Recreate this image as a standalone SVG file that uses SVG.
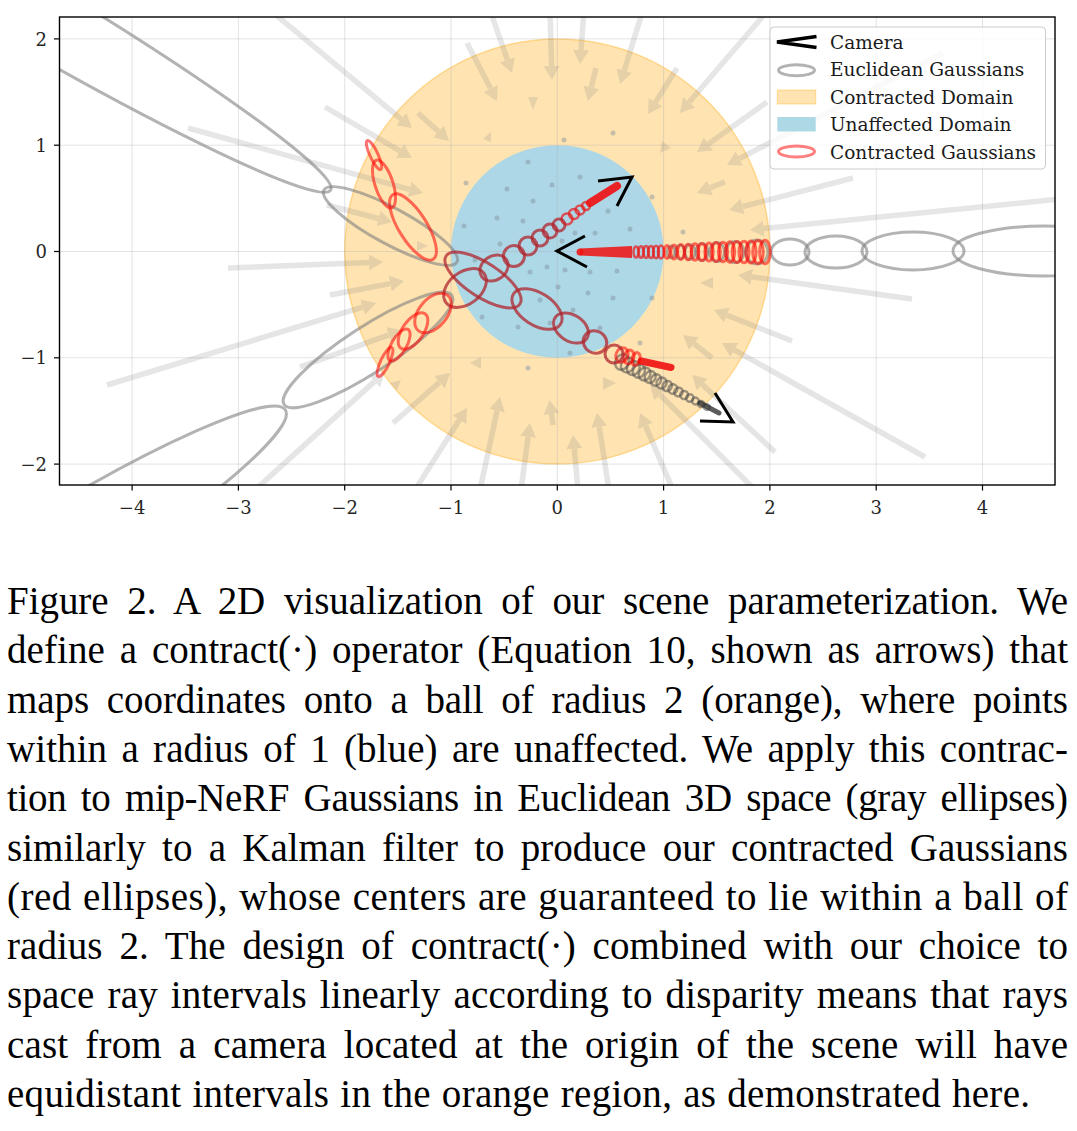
<svg xmlns="http://www.w3.org/2000/svg" width="1077" height="1131" viewBox="0 0 1077 1131">
<style>
.grid{stroke:#b0b0b0;stroke-opacity:.35;stroke-width:1}
.q line{stroke:#808080;stroke-width:5.5;stroke-linecap:butt}
.q polygon,.q circle{fill:#808080}
.dot{fill:#7f8f99;fill-opacity:.45}
.gE{fill:none;stroke:#808080;stroke-opacity:.6;stroke-width:3}
.gD{fill:none;stroke:#4d4d4d;stroke-opacity:.55;stroke-width:2.5}
.rC{fill:none;stroke:#ff0000;stroke-opacity:.55;stroke-width:3}
.rA{fill:none;stroke:#e81818;stroke-opacity:.7;stroke-width:2.5}
.rD{fill:none;stroke:#b0262e;stroke-opacity:.75;stroke-width:3}
.cam{fill:none;stroke:#000;stroke-width:3}
</style>
<defs>
<clipPath id="axclip"><rect x="59.5" y="17" width="995.5" height="468"/></clipPath>
<marker id="qh" markerUnits="userSpaceOnUse" markerWidth="14" markerHeight="16" viewBox="0 0 14 16" refX="0" refY="8" orient="auto"><path d="M0,0 L14,8 L0,16 z" fill="#808080"/></marker>
</defs>
<rect width="1077" height="1131" fill="#fff"/>
<g id="plot" clip-path="url(#axclip)">
<g id="domains">
<circle cx="557.3" cy="251.5" r="212.6" fill="#ffe4b2" stroke="#ffa500" stroke-opacity=".35" stroke-width="1.5"/>
<circle cx="557.3" cy="251.5" r="106.3" fill="#add8e6"/>
</g>
<g id="grid" class="grid">
<line x1="132.1" y1="17" x2="132.1" y2="485"/><line x1="238.4" y1="17" x2="238.4" y2="485"/><line x1="344.7" y1="17" x2="344.7" y2="485"/><line x1="451" y1="17" x2="451" y2="485"/><line x1="557.3" y1="17" x2="557.3" y2="485"/><line x1="663.6" y1="17" x2="663.6" y2="485"/><line x1="769.9" y1="17" x2="769.9" y2="485"/><line x1="876.2" y1="17" x2="876.2" y2="485"/><line x1="982.5" y1="17" x2="982.5" y2="485"/>
<line x1="59.5" y1="38.9" x2="1055" y2="38.9"/><line x1="59.5" y1="145.2" x2="1055" y2="145.2"/><line x1="59.5" y1="251.5" x2="1055" y2="251.5"/><line x1="59.5" y1="357.8" x2="1055" y2="357.8"/><line x1="59.5" y1="464.1" x2="1055" y2="464.1"/>
</g>
<g id="quiver" class="q" opacity=".2">
<line x1="270" y1="10" x2="401.2" y2="119.1" marker-end="url(#qh)"/>
<line x1="325" y1="107" x2="399.9" y2="150.9" marker-end="url(#qh)"/>
<line x1="188" y1="128" x2="409.5" y2="189.3" marker-end="url(#qh)"/>
<line x1="467" y1="43" x2="490.6" y2="88.6" marker-end="url(#qh)"/>
<line x1="490" y1="10" x2="507.4" y2="59.8" marker-end="url(#qh)"/>
<line x1="550" y1="10" x2="551.6" y2="66" marker-end="url(#qh)"/>
<line x1="584" y1="10" x2="581" y2="50" marker-end="url(#qh)"/>
<line x1="643" y1="10" x2="624.2" y2="70.6" marker-end="url(#qh)"/>
<line x1="596" y1="68" x2="591.3" y2="87.4" marker-end="url(#qh)"/>
<line x1="677" y1="68" x2="655.5" y2="102.2" marker-end="url(#qh)"/>
<line x1="770" y1="8" x2="689.1" y2="102.3" marker-end="url(#qh)"/>
<line x1="418" y1="113" x2="438.6" y2="131.6" marker-end="url(#qh)"/>
<line x1="943" y1="53" x2="739.4" y2="158.5" marker-end="url(#qh)"/>
<line x1="767" y1="102" x2="708.4" y2="143.9" marker-end="url(#qh)"/>
<line x1="725" y1="182" x2="710" y2="187.9" marker-end="url(#qh)"/>
<line x1="853" y1="178" x2="742.6" y2="206.5" marker-end="url(#qh)"/>
<line x1="1060" y1="199" x2="763.9" y2="228.6" marker-end="url(#qh)"/>
<line x1="912" y1="299" x2="751.9" y2="276.9" marker-end="url(#qh)"/>
<line x1="792" y1="341" x2="727" y2="315.2" marker-end="url(#qh)"/>
<line x1="925" y1="457" x2="734.2" y2="349.9" marker-end="url(#qh)"/>
<line x1="775" y1="452" x2="702.3" y2="384.5" marker-end="url(#qh)"/>
<line x1="755" y1="490" x2="660" y2="394.8" marker-end="url(#qh)"/>
<line x1="393" y1="423" x2="439.5" y2="382.2" marker-end="url(#qh)"/>
<line x1="415" y1="490" x2="459.5" y2="419.8" marker-end="url(#qh)"/>
<line x1="480" y1="490" x2="497.1" y2="410.7" marker-end="url(#qh)"/>
<line x1="521" y1="490" x2="528.1" y2="436.9" marker-end="url(#qh)"/>
<line x1="553" y1="425" x2="551.5" y2="414" marker-end="url(#qh)"/>
<line x1="578" y1="490" x2="574.3" y2="448.9" marker-end="url(#qh)"/>
<line x1="609" y1="490" x2="599.2" y2="426.8" marker-end="url(#qh)"/>
<line x1="673" y1="490" x2="645.5" y2="425.9" marker-end="url(#qh)"/>
<line x1="228" y1="268" x2="369" y2="262.5" marker-end="url(#qh)"/>
<line x1="107" y1="385" x2="362.6" y2="307.1" marker-end="url(#qh)"/>
<line x1="327" y1="205" x2="378.5" y2="218.5" marker-end="url(#qh)"/>
<line x1="330" y1="295" x2="390.2" y2="283.6" marker-end="url(#qh)"/>
<line x1="300" y1="367" x2="388.8" y2="334.8" marker-end="url(#qh)"/>
<line x1="255" y1="490" x2="374.6" y2="381.4" marker-end="url(#qh)"/>
<line x1="712" y1="358" x2="694" y2="343.7" marker-end="url(#qh)"/>
<polygon points="528,97 538,97 533,110"/>
<polygon points="483,139 491,132 491,142"/>
<polygon points="470,363 481,357 481,369"/>
<polygon points="603,377 616,383 603,390"/>
<polygon points="700,283 713,277 713,289"/>
<polygon points="660,153 662,141 671,148"/>
<polygon points="417,241 428,246 417,251"/>
<polygon points="390,383 401,380 397,390"/>
</g>
<g id="dots" class="dot">
<circle cx="500" cy="244" r="2.5"/><circle cx="475" cy="260" r="2.5"/><circle cx="530" cy="272" r="2.5"/><circle cx="547" cy="267" r="2.5"/><circle cx="565" cy="270" r="2.5"/><circle cx="590" cy="272" r="2.5"/><circle cx="617" cy="271" r="2.5"/><circle cx="558" cy="287" r="2.5"/><circle cx="588" cy="293" r="2.5"/><circle cx="613" cy="298" r="2.5"/><circle cx="573" cy="310" r="2.5"/><circle cx="540" cy="300" r="2.5"/><circle cx="518" cy="327" r="2.5"/><circle cx="482" cy="317" r="2.5"/><circle cx="600" cy="328" r="2.5"/><circle cx="570" cy="353" r="2.5"/><circle cx="550" cy="323" r="2.5"/><circle cx="528" cy="162" r="2.5"/><circle cx="580" cy="177" r="2.5"/><circle cx="552" cy="185" r="2.5"/><circle cx="507" cy="189" r="2.5"/><circle cx="533" cy="201" r="2.5"/><circle cx="497" cy="218" r="2.5"/><circle cx="523" cy="221" r="2.5"/><circle cx="464" cy="226" r="2.5"/><circle cx="608" cy="211" r="2.5"/><circle cx="630" cy="229" r="2.5"/><circle cx="595" cy="233" r="2.5"/><circle cx="575" cy="233" r="2.5"/><circle cx="562" cy="241" r="2.5"/><circle cx="652" cy="298" r="2.5"/><circle cx="640" cy="343" r="2.5"/><circle cx="528" cy="368" r="2.5"/><circle cx="466" cy="183" r="2.5"/><circle cx="564" cy="140" r="2.5"/><circle cx="613" cy="133" r="2.5"/><circle cx="652" cy="197" r="2.5"/><circle cx="683" cy="232" r="2.5"/>
</g>
<g id="euclidean-gaussians">
<ellipse class="gE" cx="0" cy="0" rx="400" ry="35" transform="translate(-14,-13) rotate(30.5)"/>
<ellipse class="gE" cx="0" cy="0" rx="75.6" ry="18" transform="translate(390.5,226) rotate(28.4)"/>
<ellipse class="gE" cx="0" cy="0" rx="100" ry="23" transform="translate(368,350) rotate(-33)"/>
<ellipse class="gE" cx="0" cy="0" rx="300" ry="42" transform="translate(31,569) rotate(-32)"/>
<ellipse class="gE" cx="790" cy="252" rx="19" ry="13"/>
<ellipse class="gE" cx="836" cy="252" rx="31" ry="16"/>
<ellipse class="gE" cx="913" cy="251" rx="51" ry="19"/>
<ellipse class="gE" cx="1045" cy="251" rx="92" ry="25"/>
<ellipse class="gE" cx="671" cy="252" rx="4" ry="6"/>
<ellipse class="gE" cx="680" cy="252" rx="4.5" ry="7"/>
<ellipse class="gE" cx="690" cy="252" rx="5" ry="7.5"/>
<ellipse class="gE" cx="702" cy="252" rx="6" ry="8.5"/>
<ellipse class="gE" cx="717" cy="252" rx="7.5" ry="9.5"/>
<ellipse class="gE" cx="735" cy="252" rx="9" ry="10.5"/>
<ellipse class="gE" cx="757" cy="252" rx="11" ry="12"/>
<ellipse class="gD" cx="0" cy="0" rx="6.6" ry="8" transform="translate(622,362) rotate(28)"/>
<ellipse class="gD" cx="0" cy="0" rx="6.4" ry="7.65" transform="translate(627.6,365) rotate(28)"/>
<ellipse class="gD" cx="0" cy="0" rx="6.1" ry="7.3" transform="translate(633.3,368) rotate(28)"/>
<ellipse class="gD" cx="0" cy="0" rx="5.8" ry="6.9" transform="translate(638.9,371) rotate(28)"/>
<ellipse class="gD" cx="0" cy="0" rx="5.6" ry="6.6" transform="translate(644.6,374) rotate(28)"/>
<ellipse class="gD" cx="0" cy="0" rx="5.3" ry="6.2" transform="translate(650.2,377) rotate(28)"/>
<ellipse class="gD" cx="0" cy="0" rx="5.1" ry="5.9" transform="translate(655.9,380) rotate(28)"/>
<ellipse class="gD" cx="0" cy="0" rx="4.9" ry="5.5" transform="translate(661.5,383) rotate(28)"/>
<ellipse class="gD" cx="0" cy="0" rx="4.6" ry="5.2" transform="translate(667.2,386) rotate(28)"/>
<ellipse class="gD" cx="0" cy="0" rx="4.4" ry="4.8" transform="translate(672.8,389) rotate(28)"/>
<ellipse class="gD" cx="0" cy="0" rx="4.1" ry="4.5" transform="translate(678.5,392) rotate(28)"/>
<ellipse class="gD" cx="0" cy="0" rx="3.9" ry="4.1" transform="translate(684.1,395) rotate(28)"/>
<ellipse class="gD" cx="0" cy="0" rx="3.6" ry="3.8" transform="translate(689.8,398) rotate(28)"/>
<ellipse class="gD" cx="0" cy="0" rx="3.4" ry="3.4" transform="translate(695.4,401) rotate(28)"/>
<ellipse class="gD" cx="0" cy="0" rx="3.1" ry="3.1" transform="translate(701.1,404) rotate(28)"/>
<ellipse class="gD" cx="0" cy="0" rx="2.9" ry="2.7" transform="translate(706.7,407) rotate(28)"/>
<line x1="700" y1="403" x2="719" y2="413" stroke="#333" stroke-width="5" stroke-linecap="round" stroke-opacity=".8"/>
</g>
<g id="contracted-gaussians">
<polygon points="580,248.5 632,246 632,258 580,255.5" fill="#f01010" fill-opacity=".85"/>
<circle cx="580" cy="252" r="3.5" fill="#f01010" fill-opacity=".85"/>
<ellipse class="rA" cx="636" cy="252" rx="2.5" ry="5.5"/>
<ellipse class="rA" cx="641" cy="252" rx="2.5" ry="5.7"/>
<ellipse class="rA" cx="646" cy="252" rx="2.5" ry="5.9"/>
<ellipse class="rA" cx="651" cy="252" rx="2.7" ry="6.1"/>
<ellipse class="rA" cx="656" cy="252" rx="2.8" ry="6.3"/>
<ellipse class="rA" cx="661" cy="252" rx="3" ry="6.5"/>
<ellipse class="rC" cx="667" cy="252" rx="3" ry="6.5"/>
<ellipse class="rC" cx="674" cy="252" rx="3.2" ry="7"/>
<ellipse class="rC" cx="681" cy="252" rx="3.4" ry="7.4"/>
<ellipse class="rC" cx="688" cy="252" rx="3.6" ry="7.8"/>
<ellipse class="rC" cx="695" cy="252" rx="3.8" ry="8.2"/>
<ellipse class="rC" cx="702" cy="252" rx="4" ry="8.6"/>
<ellipse class="rC" cx="709" cy="252" rx="4.1" ry="9"/>
<ellipse class="rC" cx="716" cy="252" rx="4.3" ry="9.4"/>
<ellipse class="rC" cx="723" cy="252" rx="4.5" ry="9.8"/>
<ellipse class="rC" cx="730" cy="252" rx="4.6" ry="10.2"/>
<ellipse class="rC" cx="737" cy="252" rx="4.8" ry="10.5"/>
<ellipse class="rC" cx="744" cy="252" rx="5" ry="10.8"/>
<ellipse class="rC" cx="751" cy="252" rx="5.1" ry="11.1"/>
<ellipse class="rC" cx="758" cy="252" rx="5.2" ry="11.4"/>
<ellipse class="rC" cx="765" cy="252" rx="5.3" ry="11.7"/>
<line x1="617" y1="186" x2="590" y2="203" stroke="#f01010" stroke-opacity=".9" stroke-width="8" stroke-linecap="round"/>
<circle class="rA" cx="586" cy="206" r="4"/>
<circle class="rA" cx="580" cy="210" r="4.5"/>
<circle class="rA" cx="574" cy="214" r="5"/>
<circle class="rA" cx="567" cy="219" r="5.5"/>
<circle class="rD" cx="559" cy="225" r="6"/>
<circle class="rD" cx="550" cy="231" r="7"/>
<circle class="rD" cx="540" cy="238" r="8"/>
<circle class="rD" cx="528" cy="246" r="9"/>
<circle class="rD" cx="514" cy="256" r="10.5"/>
<ellipse class="rD" cx="0" cy="0" rx="15" ry="12" transform="translate(494,268) rotate(-35)"/>
<ellipse class="rD" cx="0" cy="0" rx="24" ry="16" transform="translate(465,288) rotate(-38)"/>
<ellipse class="rC" cx="0" cy="0" rx="23" ry="14" transform="translate(433,313) rotate(-50)"/>
<ellipse class="rC" cx="0" cy="0" rx="21" ry="10.5" transform="translate(413,331) rotate(-55)"/>
<ellipse class="rC" cx="0" cy="0" rx="18" ry="7.5" transform="translate(399,345) rotate(-60)"/>
<ellipse class="rC" cx="0" cy="0" rx="16" ry="4.5" transform="translate(385,362) rotate(-65)"/>
<line x1="671" y1="367.5" x2="641" y2="361" stroke="#f01010" stroke-opacity=".9" stroke-width="7" stroke-linecap="round"/>
<ellipse class="rC" cx="0" cy="0" rx="4" ry="6.5" transform="translate(636,359) rotate(15)"/>
<ellipse class="rC" cx="0" cy="0" rx="5" ry="7" transform="translate(629,357) rotate(15)"/>
<ellipse class="rC" cx="0" cy="0" rx="6" ry="7.5" transform="translate(622,355) rotate(20)"/>
<circle class="rD" cx="614" cy="354" r="9"/>
<ellipse class="rD" cx="0" cy="0" rx="12" ry="11" transform="translate(595,342) rotate(30)"/>
<ellipse class="rD" cx="0" cy="0" rx="19" ry="13" transform="translate(571,328) rotate(33)"/>
<ellipse class="rD" cx="0" cy="0" rx="28" ry="16" transform="translate(537,309) rotate(33)"/>
<ellipse class="rD" cx="0" cy="0" rx="44" ry="17" transform="translate(483,280) rotate(33)"/>
<ellipse class="rC" cx="0" cy="0" rx="38" ry="14" transform="translate(413,227) rotate(58)"/>
<ellipse class="rC" cx="0" cy="0" rx="25" ry="9" transform="translate(384,184) rotate(72)"/>
<ellipse class="rC" cx="0" cy="0" rx="16" ry="4" transform="translate(374,155) rotate(65)"/>
</g>
<g id="cameras" class="cam">
<polyline points="585,236 557,251 587,267"/>
<polyline points="598,181 632,177 617,206"/>
<polyline points="715,393 733,422 700,421"/>
</g>
</g>
<g id="axes">
<rect x="59.5" y="17" width="995.5" height="468" fill="none" stroke="#000" stroke-width="1.4"/>
<g stroke="#000" stroke-width="1.2">
<line x1="54" y1="38.9" x2="59.5" y2="38.9"/><line x1="54" y1="145.2" x2="59.5" y2="145.2"/><line x1="54" y1="251.5" x2="59.5" y2="251.5"/><line x1="54" y1="357.8" x2="59.5" y2="357.8"/><line x1="54" y1="464.1" x2="59.5" y2="464.1"/>
<line x1="132.1" y1="485" x2="132.1" y2="490.5"/><line x1="238.4" y1="485" x2="238.4" y2="490.5"/><line x1="344.7" y1="485" x2="344.7" y2="490.5"/><line x1="451" y1="485" x2="451" y2="490.5"/><line x1="557.3" y1="485" x2="557.3" y2="490.5"/><line x1="663.6" y1="485" x2="663.6" y2="490.5"/><line x1="769.9" y1="485" x2="769.9" y2="490.5"/><line x1="876.2" y1="485" x2="876.2" y2="490.5"/><line x1="982.5" y1="485" x2="982.5" y2="490.5"/>
</g>
<g font-family="DejaVu Serif" font-size="18" fill="#262626" text-anchor="end">
<text x="47" y="45.5">2</text><text x="47" y="151.8">1</text><text x="47" y="258.1">0</text><text x="47" y="364.4">−1</text><text x="47" y="470.7">−2</text>
</g>
<g font-family="DejaVu Serif" font-size="18" fill="#262626" text-anchor="middle">
<text x="132.1" y="514">−4</text><text x="238.4" y="514">−3</text><text x="344.7" y="514">−2</text><text x="451" y="514">−1</text><text x="557.3" y="514">0</text><text x="663.6" y="514">1</text><text x="769.9" y="514">2</text><text x="876.2" y="514">3</text><text x="982.5" y="514">4</text>
</g>
</g>
<g id="legend">
<rect x="770" y="27" width="275.5" height="142" rx="4" fill="#fff" fill-opacity=".8" stroke="#cccccc" stroke-width="1"/>
<polyline points="816.5,36.5 777,42 816.5,47.5" fill="none" stroke="#000" stroke-width="3.5"/>
<ellipse cx="796.5" cy="70.3" rx="18" ry="5.5" fill="none" stroke="#808080" stroke-opacity=".6" stroke-width="3"/>
<rect x="777.3" y="90" width="38.4" height="14" fill="#ffe4b2" stroke="#ffa500" stroke-opacity=".35"/>
<rect x="777.3" y="117" width="38.4" height="14.5" fill="#add8e6"/>
<ellipse cx="796.5" cy="151.5" rx="18" ry="5.5" fill="none" stroke="#ff0000" stroke-opacity=".5" stroke-width="3"/>
<g font-family="DejaVu Serif" font-size="18.5" fill="#1a1a1a">
<text x="830" y="49">Camera</text>
<text x="830" y="76.4">Euclidean Gaussians</text>
<text x="830" y="103.8">Contracted Domain</text>
<text x="830" y="131.2">Unaffected Domain</text>
<text x="830" y="158.6">Contracted Gaussians</text>
</g>
</g>
<g id="caption" font-family="Liberation Serif" font-size="39" fill="#000">
<text x="7" y="614" word-spacing="9" textLength="1061" lengthAdjust="spacing">Figure 2.  A 2D visualization of our scene parameterization.  We</text>
<text x="7" y="663.3" word-spacing="5" textLength="1061" lengthAdjust="spacing">define a contract(·) operator (Equation 10, shown as arrows) that</text>
<text x="7" y="712.6" word-spacing="8" textLength="1061" lengthAdjust="spacing">maps coordinates onto a ball of radius 2 (orange), where points</text>
<text x="7" y="761.9" word-spacing="4.5" textLength="1061" lengthAdjust="spacing">within a radius of 1 (blue) are unaffected.  We apply this contrac-</text>
<text x="7" y="811.2" word-spacing="5" textLength="1061" lengthAdjust="spacing">tion to mip-NeRF Gaussians in Euclidean 3D space (gray ellipses)</text>
<text x="7" y="860.5" word-spacing="6.5" textLength="1061" lengthAdjust="spacing">similarly to a Kalman filter to produce our contracted Gaussians</text>
<text x="7" y="909.8" word-spacing="1" textLength="1061" lengthAdjust="spacing">(red ellipses), whose centers are guaranteed to lie within a ball of</text>
<text x="7" y="959.1" word-spacing="7" textLength="1061" lengthAdjust="spacing">radius 2. The design of contract(·) combined with our choice to</text>
<text x="7" y="1008.4" word-spacing="3" textLength="1061" lengthAdjust="spacing">space ray intervals linearly according to disparity means that rays</text>
<text x="7" y="1057.7" word-spacing="7" textLength="1061" lengthAdjust="spacing">cast from a camera located at the origin of the scene will have</text>
<text x="7" y="1107" word-spacing="1" textLength="1023" lengthAdjust="spacing">equidistant intervals in the orange region, as demonstrated here.</text>
</g>
</svg>
